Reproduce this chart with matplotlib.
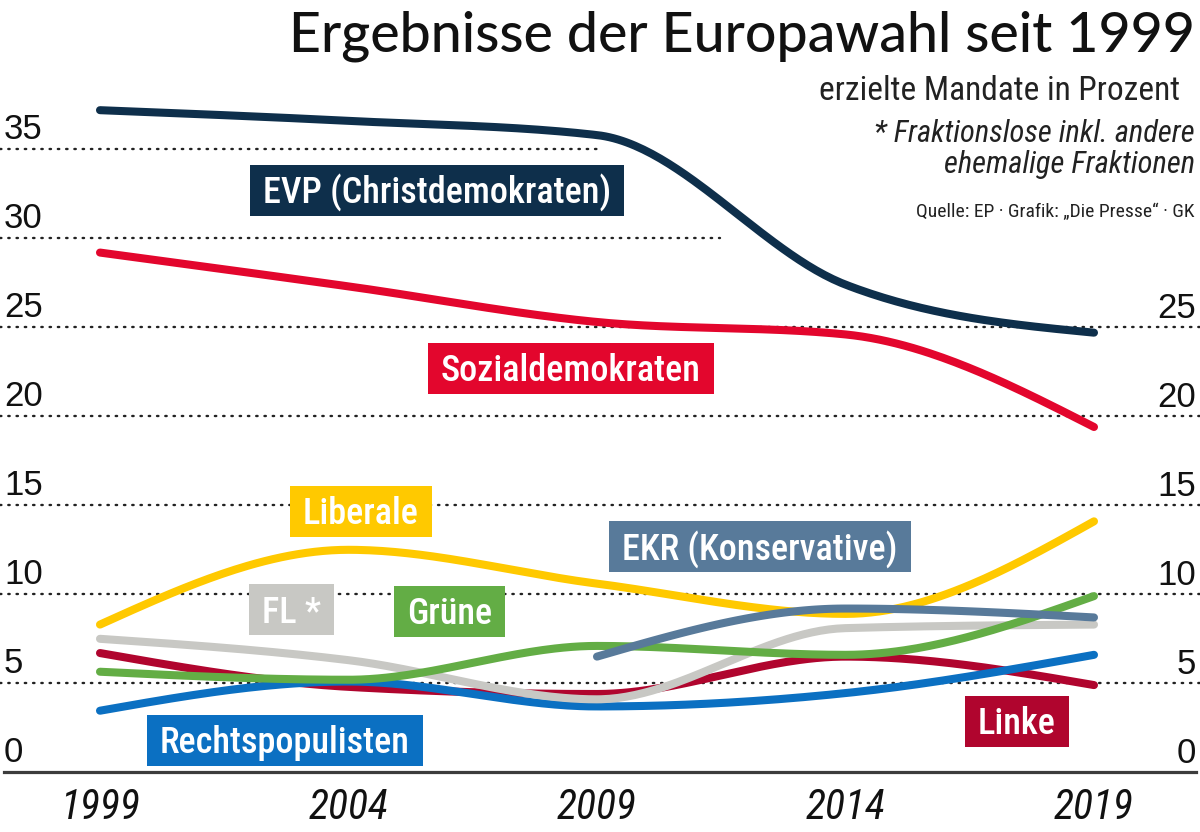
import numpy as np
import matplotlib
matplotlib.use("Agg")
import matplotlib.pyplot as plt
from matplotlib import font_manager
from matplotlib.font_manager import FontProperties
from matplotlib.patches import Rectangle
from matplotlib.transforms import IdentityTransform, blended_transform_factory

# ---------------------------------------------------------------
# data (share of seats in %)
# ---------------------------------------------------------------
years = [1999, 2004, 2009, 2014, 2019]

evp = [37.2, 36.6, 35.8, 27.4, 24.7]
sozialdemokraten = [29.2, 27.3, 25.3, 24.6, 19.4]
liberale = [8.3, 12.5, 10.6, 8.9, 14.1]
ekr = [np.nan, np.nan, 6.5, 9.2, 8.7]
fraktionslose = [7.5, 6.3, 4.1, 8.1, 8.3]
gruene = [5.65, 5.2, 7.1, 6.6, 9.9]
rechtspopulisten = [3.46, 5.1, 3.7, 4.45, 6.6]
linke = [6.7, 4.8, 4.4, 6.5, 4.9]

grid_values = [0, 5, 10, 15, 20, 25, 30, 35]
right_tick_values = [0, 5, 10, 15, 20, 25]

# series: (values, colour, label text, label position in data coords)
series = [
    (liberale, '#ffc900', 'Liberale', (2004.25, 14.68)),
    (linke, '#b0052e', 'Linke', (2017.45, 2.87)),
    (rechtspopulisten, '#0b70c2', 'Rechtspopulisten', (2002.72, 1.81)),
    (fraktionslose, '#c8c8c4', 'FL *', (2002.86, 9.12)),
    (gruene, '#63ad45', 'Grüne', (2006.04, 9.06)),
    (ekr, '#587a9a', 'EKR (Konservative)', (2012.28, 12.66)),
    (sozialdemokraten, '#e3062d', 'Sozialdemokraten', (2008.47, 22.71)),
    (evp, '#0e2f4b', 'EVP (Christdemokraten)', (2005.78, 32.71)),
]


# ---------------------------------------------------------------
# fonts: the original uses a condensed grotesque, look for one
# ---------------------------------------------------------------
def _w(f):
    try:
        return int(f.weight)
    except (TypeError, ValueError):
        return {'normal': 400, 'regular': 400, 'medium': 500, 'bold': 700}.get(str(f.weight), 400)


def find_narrow(style='normal', weight=400):
    prefer = ['roboto condensed', 'liberation sans narrow', 'open sans condensed',
              'noto sans', 'dejavu sans']
    best = None
    for f in font_manager.fontManager.ttflist:
        nm = f.name.lower()
        narrow = ('condensed' in nm or 'narrow' in nm
                  or str(f.stretch) in ('condensed', 'semi-condensed', 'extra-condensed')
                  or 'condensed' in f.fname.lower())
        if not narrow or 'mono' in nm or 'serif' in nm or f.style != style:
            continue
        if 'extra' in f.fname.lower() or 'semicondensed' in f.fname.lower():
            continue
        rank = next((i for i, p in enumerate(prefer) if nm.startswith(p)), len(prefer))
        key = (rank, abs(_w(f) - weight))
        if best is None or key < best[0]:
            best = (key, f.fname)
    return best[1] if best else None


def narrow_font(size, style='normal', weight=400):
    path = find_narrow(style, weight)
    if path:
        return FontProperties(fname=path, size=size)
    return FontProperties(family='DejaVu Sans', style=style, stretch='condensed', size=size)


def monotone_curve(x, y, n=60):
    """Monotone cubic (d3 curveMonotoneX style) through the data points."""
    x = np.asarray(x, float)
    y = np.asarray(y, float)
    ok = ~np.isnan(y)
    x, y = x[ok], y[ok]
    h = np.diff(x)
    s = np.diff(y) / h
    m = np.zeros_like(y)
    for i in range(1, len(y) - 1):
        p = (s[i - 1] * h[i] + s[i] * h[i - 1]) / (h[i - 1] + h[i])
        m[i] = (np.sign(s[i - 1]) + np.sign(s[i])) * min(abs(s[i - 1]), abs(s[i]), 0.5 * abs(p))
    m[0] = (3 * s[0] - m[1]) / 2
    m[-1] = (3 * s[-1] - m[-2]) / 2
    xs, ys = [], []
    for i in range(len(h)):
        t = np.linspace(0, 1, n)
        h00 = 2 * t**3 - 3 * t**2 + 1
        h10 = t**3 - 2 * t**2 + t
        h01 = -2 * t**3 + 3 * t**2
        h11 = t**3 - t**2
        xs.append(x[i] + t * h[i])
        ys.append(h00 * y[i] + h10 * h[i] * m[i] + h01 * y[i + 1] + h11 * h[i] * m[i + 1])
    return np.concatenate(xs), np.concatenate(ys)


fig = plt.figure(figsize=(12, 8.32), dpi=100)
ax = fig.add_axes([0, 0, 1, 1])
ax.set_xlim(1996.988, 2021.133)
ax.set_ylim(-3.354, 43.39)
ax.axis('off')

# dotted gridlines (upper two are cut by the title block)
grid_extent = {30: 0.60, 35: 0.5025}
for v in grid_values[1:]:
    ax.axhline(v, xmin=0, xmax=grid_extent.get(v, 1.0), color='#222222',
               linewidth=1.7, linestyle=(0, (0.6, 2.9)), dash_capstyle='round', zorder=1)
ax.axhline(0, xmin=4 / 1200, xmax=1196 / 1200, color='#3c3c3c', linewidth=2.3, zorder=1)

# tick labels
left_tr = blended_transform_factory(ax.transAxes, ax.transData)
for v in grid_values:
    ax.text(4 / 1200, v + 0.6, str(v), transform=left_tr, ha='left', va='baseline',
            fontsize=25, family=['Liberation Sans', 'DejaVu Sans'], color='#111111')
for v in right_tick_values:
    ax.text(1196 / 1200, v + 0.55, str(v), transform=left_tr, ha='right', va='baseline',
            fontsize=25, family=['Liberation Sans', 'DejaVu Sans'], color='#111111')

for yr in years:
    ax.text(yr, -2.0, str(yr), ha='center', va='center',
            fontproperties=narrow_font(30, style='italic'), color='#111111')

# lines
for vals, col, _, _ in series:
    cx, cy = monotone_curve(years, vals)
    ax.plot(cx, cy, color=col, linewidth=5.8, solid_capstyle='round', zorder=3)

# label boxes
fig.canvas.draw()
renderer = fig.canvas.get_renderer()
fs = 26
em = fs * fig.dpi / 72
label_fp = narrow_font(fs, weight=500)
for vals, col, txt, (lx, ly) in series:
    px, py = ax.transData.transform((lx, ly))
    t = ax.text(px, py - 0.36 * em, txt, transform=IdentityTransform(), ha='center',
                va='baseline', color='white', fontproperties=label_fp, zorder=6)
    w = t.get_window_extent(renderer).width
    ax.add_patch(Rectangle((px - w / 2 - 13, py - 25.5), w + 26, 51,
                           transform=IdentityTransform(), facecolor=col,
                           edgecolor='none', zorder=5))

# titles and notes
fig.text(1195 / 1200, 1 - 52 / 832, 'Ergebnisse der Europawahl seit 1999', ha='right',
         va='baseline', fontsize=40, family=['Lato', 'DejaVu Sans'], weight=500,
         color='#111111')
fig.text(1180 / 1200, 1 - 100 / 832, 'erzielte Mandate in Prozent', ha='right',
         va='baseline', fontproperties=narrow_font(24), color='#222222')
fig.text(1195 / 1200, 1 - 142 / 832, '* Fraktionslose inkl. andere', ha='right',
         va='baseline', fontproperties=narrow_font(22, style='italic'), color='#222222')
fig.text(1195 / 1200, 1 - 173 / 832, 'ehemalige Fraktionen', ha='right',
         va='baseline', fontproperties=narrow_font(22, style='italic'), color='#222222')
fig.text(1195 / 1200, 1 - 217 / 832, 'Quelle: EP · Grafik: „Die Presse“ · GK', ha='right',
         va='baseline', fontproperties=narrow_font(14), color='#222222')

fig.savefig('out.png', dpi=100)
